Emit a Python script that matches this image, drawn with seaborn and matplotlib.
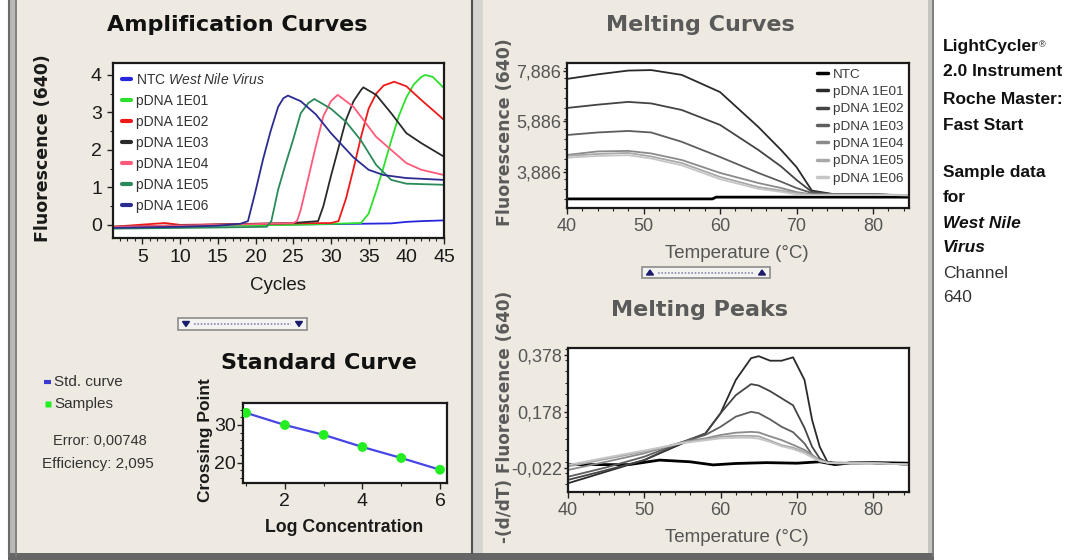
import numpy as np
import pandas as pd
import matplotlib.pyplot as plt
import seaborn as sns
from matplotlib.patches import Rectangle, Polygon
from matplotlib.lines import Line2D
from matplotlib.ticker import MultipleLocator, FixedLocator

W, H = 1082, 560
ARIAL = ['Liberation Sans', 'DejaVu Sans']
HEAVY = ['DejaVu Sans']

# ---- Amplification curves (cycle / fluorescence 640) ----
amp_names = ["NTC", "pDNA 1E01", "pDNA 1E02", "pDNA 1E03", "pDNA 1E04", "pDNA 1E05", "pDNA 1E06"]
amp_labels = ["NTC $\\it{West\\ Nile\\ Virus}$", "pDNA 1E01", "pDNA 1E02", "pDNA 1E03",
              "pDNA 1E04", "pDNA 1E05", "pDNA 1E06"]
amp_colors = ["#2626DC", "#2EE02E", "#EE1A1A", "#2A2A2A", "#FF5A7A", "#2A8A5A", "#2C2C90"]

amp_ntc_x = [1, 10, 20, 30, 38, 40, 42, 45]
amp_ntc_y = [-0.06, -0.04, 0.0, 0.02, 0.04, 0.08, 0.1, 0.12]
amp_e01_x = [1, 25, 34, 35, 36, 37, 38, 39, 40, 41, 42, 42.5, 43.5, 44.5, 45]
amp_e01_y = [-0.05, 0.0, 0.05, 0.3, 0.9, 1.55, 2.25, 2.9, 3.4, 3.75, 3.95, 4.0, 3.95, 3.75, 3.65]
amp_e02_x = [1, 8, 10, 20, 30, 31, 32, 33, 34, 35, 36, 37, 38.4, 40, 42, 44, 45]
amp_e02_y = [-0.05, 0.05, 0.0, 0.03, 0.05, 0.1, 0.7, 1.5, 2.35, 3.1, 3.5, 3.72, 3.82, 3.7, 3.33, 2.98, 2.8]
amp_e03_x = [1, 25, 28.3, 29, 30, 31, 32, 33, 34, 34.3, 36, 38, 40, 42, 45]
amp_e03_y = [-0.05, 0.05, 0.1, 0.5, 1.3, 2.05, 2.8, 3.3, 3.6, 3.67, 3.47, 2.98, 2.45, 2.18, 1.82]
amp_e04_x = [1, 20, 25, 25.5, 26, 27, 28, 29, 30, 30.9, 33, 36, 38, 40, 42, 45]
amp_e04_y = [-0.05, 0.02, 0.05, 0.1, 0.4, 1.25, 2.1, 2.9, 3.3, 3.47, 3.15, 2.35, 2.0, 1.65, 1.47, 1.33]
amp_e05_x = [1, 15, 21.5, 22.1, 23, 24, 25, 26, 27, 27.8, 30, 32, 34, 36, 38, 40, 45]
amp_e05_y = [-0.1, -0.07, -0.05, 0.1, 0.94, 1.63, 2.28, 2.98, 3.25, 3.36, 3.1, 2.75, 2.25, 1.6, 1.2, 1.1, 1.07]
amp_e06_x = [1, 10, 15, 18, 19, 20, 21, 22, 23, 23.7, 24.3, 26, 28, 30, 33, 35, 37, 40, 45]
amp_e06_y = [-0.08, -0.05, -0.02, 0.03, 0.1, 0.9, 1.75, 2.5, 3.15, 3.38, 3.45, 3.3, 2.95, 2.45, 1.8, 1.47, 1.33, 1.25, 1.2]

# ---- Standard curve ----
log_conc = [1, 2, 3, 4, 5, 6]
crossing_point = [33.2, 30.0, 27.4, 24.2, 21.3, 18.2]

# ---- Melting curves (temperature / fluorescence 640) ----
melt_names = ["NTC", "pDNA 1E01", "pDNA 1E02", "pDNA 1E03", "pDNA 1E04", "pDNA 1E05", "pDNA 1E06"]
melt_colors = ["#000000", "#2A2A2A", "#444444", "#5E5E5E", "#8A8A8A", "#A8A8A8", "#C6C6C6"]
melt_temp = [40, 44, 48, 51, 55, 60, 65, 68, 70, 72, 75, 80, 85]
melt_e01 = [7.57, 7.75, 7.90, 7.92, 7.73, 7.05, 5.67, 4.75, 4.08, 3.15, 3.0, 3.0, 2.95]
melt_e02 = [6.42, 6.55, 6.66, 6.60, 6.34, 5.75, 4.76, 4.10, 3.57, 3.10, 3.0, 3.0, 2.95]
melt_e03 = [5.35, 5.45, 5.51, 5.45, 5.08, 4.48, 3.85, 3.50, 3.25, 3.05, 3.0, 3.0, 2.95]
melt_e04 = [4.56, 4.70, 4.72, 4.62, 4.36, 3.85, 3.45, 3.25, 3.09, 3.0, 3.0, 3.0, 2.97]
melt_e05 = [4.52, 4.60, 4.64, 4.50, 4.24, 3.69, 3.29, 3.15, 3.05, 2.98, 2.98, 2.98, 2.97]
melt_e06 = [4.45, 4.52, 4.55, 4.42, 4.15, 3.60, 3.22, 3.10, 3.00, 2.97, 2.97, 2.97, 2.97]
melt_ntc_temp = [40, 59, 59.5, 85]
melt_ntc = [2.82, 2.82, 2.89, 2.89]
melt_ticks = [3.886, 5.886, 7.886]
melt_ticklabels = ["3,886", "5,886", "7,886"]

# ---- Melting peaks (temperature / -(d/dT) fluorescence) ----
peak_temp = [40, 45, 50, 55, 58, 60, 62, 64, 65, 66.5, 68, 69.5, 71, 72, 73, 74, 75, 80, 85]
peak_e01 = [-0.076, -0.035, 0.006, 0.065, 0.10, 0.172, 0.29, 0.367, 0.374, 0.358, 0.358, 0.37, 0.29, 0.148, 0.053, 0.0, -0.003, -0.005, -0.01]
peak_e02 = [-0.064, -0.03, 0.006, 0.07, 0.10, 0.172, 0.236, 0.275, 0.27, 0.25, 0.225, 0.2, 0.12, 0.053, 0.012, -0.003, -0.005, -0.005, -0.01]
peak_e03 = [-0.053, -0.02, 0.018, 0.07, 0.095, 0.124, 0.16, 0.177, 0.172, 0.15, 0.124, 0.105, 0.065, 0.024, 0.0, -0.003, -0.005, -0.005, -0.01]
peak_e04 = [-0.029, 0.0, 0.03, 0.07, 0.083, 0.095, 0.103, 0.106, 0.104, 0.09, 0.077, 0.06, 0.042, 0.024, 0.006, -0.003, -0.005, -0.005, -0.01]
peak_e05 = [-0.017, 0.01, 0.036, 0.068, 0.08, 0.089, 0.092, 0.092, 0.09, 0.075, 0.059, 0.05, 0.035, 0.02, 0.005, -0.003, -0.005, -0.005, -0.01]
peak_e06 = [-0.011, 0.015, 0.04, 0.066, 0.076, 0.083, 0.085, 0.085, 0.082, 0.07, 0.055, 0.045, 0.03, 0.015, 0.003, -0.003, -0.005, -0.005, -0.01]
peak_ntc_temp = [40, 48, 52, 56, 59, 62, 66, 70, 73, 75, 77, 80, 85]
peak_ntc = [-0.01, -0.01, 0.006, 0.0, -0.011, -0.006, -0.003, -0.005, 0.0, -0.01, -0.004, -0.003, -0.005]
peak_ticks = [-0.022, 0.178, 0.378]
peak_ticklabels = ["-0,022", "0,178", "0,378"]

side_lines = ["LightCycler", "2.0 Instrument", "Roche Master:", "Fast Start",
              "Sample data", "for", "West Nile", "Virus", "Channel", "640"]


def long_df(xs, ys, names, xname, yname):
    parts = [pd.DataFrame({xname: x, yname: y, "sample": n}) for x, y, n in zip(xs, ys, names)]
    return pd.concat(parts, ignore_index=True)


amp_df = long_df([amp_ntc_x, amp_e01_x, amp_e02_x, amp_e03_x, amp_e04_x, amp_e05_x, amp_e06_x],
                 [amp_ntc_y, amp_e01_y, amp_e02_y, amp_e03_y, amp_e04_y, amp_e05_y, amp_e06_y],
                 amp_names, "cycle", "fluor")
melt_df = long_df([melt_ntc_temp] + [melt_temp] * 6,
                  [melt_ntc, melt_e01, melt_e02, melt_e03, melt_e04, melt_e05, melt_e06],
                  melt_names, "temp", "fluor")
peak_df = long_df([peak_ntc_temp] + [peak_temp] * 6,
                  [peak_ntc, peak_e01, peak_e02, peak_e03, peak_e04, peak_e05, peak_e06],
                  melt_names, "temp", "dfdt")
std_df = pd.DataFrame({"logc": log_conc, "cp": crossing_point})

sns.set_theme(style="white")
plt.rcParams['font.family'] = ARIAL
plt.rcParams['mathtext.fontset'] = 'custom'
plt.rcParams['mathtext.rm'] = 'Liberation Sans'
plt.rcParams['mathtext.it'] = 'Liberation Sans:italic'

fig = plt.figure(figsize=(W / 100, H / 100), dpi=100, facecolor="white")


def px_axes(left, top, right, bottom):
    return fig.add_axes([left / W, 1 - bottom / H, (right - left) / W, (bottom - top) / H])


# background / window frame
bg = fig.add_axes([0, 0, 1, 1])
bg.set_xlim(0, W)
bg.set_ylim(H, 0)
bg.axis("off")
bg.add_patch(Rectangle((17, 0), 912, 553, color="#EEEAE1", lw=0))
bg.add_patch(Rectangle((8, 0), 9, 556, color="#B8B8B4", lw=0))
bg.plot([9, 9], [0, 556], color="#6A6A6A", lw=1.5)
bg.plot([16, 16], [0, 556], color="#7A7A7A", lw=1.2)
bg.add_patch(Rectangle((473, 0), 10, 553, color="#D6D4CE", lw=0))
bg.plot([472, 472], [0, 553], color="#505050", lw=1.5)
bg.add_patch(Rectangle((928, 0), 6, 556, color="#C4C4C0", lw=0))
bg.plot([933, 933], [0, 556], color="#7A7A7A", lw=1.3)
bg.add_patch(Rectangle((8, 553), 926, 7, color="#666666", lw=0))


def handle(x0, x1, y0, y1, up):
    bg.add_patch(Rectangle((x0, y0), x1 - x0, y1 - y0, facecolor="#F3F3F1", edgecolor="#8C8C8C", lw=1.2))
    ym = (y0 + y1) / 2
    bg.plot([x0 + 16, x1 - 16], [ym, ym], color="#8C8CB4", lw=1.2, ls=(0, (1, 1)))
    for xc in (x0 + 8, x1 - 8):
        if up:
            tri = [(xc - 3.5, ym + 2.5), (xc + 3.5, ym + 2.5), (xc, ym - 2.5)]
        else:
            tri = [(xc - 3.5, ym - 2.5), (xc + 3.5, ym - 2.5), (xc, ym + 2.5)]
        bg.add_patch(Polygon(tri, closed=True, color="#1C1C6C"))


handle(178, 307, 318, 330, up=False)
handle(642, 770, 267, 278, up=True)


def style(ax, color, lw=1.6):
    ax.set_facecolor("white")
    for s in ax.spines.values():
        s.set_visible(True)
        s.set_color("#1A1A1A")
        s.set_linewidth(lw)
    ax.tick_params(axis="both", which="both", bottom=True, left=True, direction="out",
                   colors="#222222", labelcolor=color)
    ax.tick_params(which="major", length=4, width=1)
    ax.tick_params(which="minor", length=2, width=0.8)
    ax.grid(False)


# ---- Amplification Curves ----
ax1 = px_axes(113, 63, 444, 238)
sns.lineplot(data=amp_df, x="cycle", y="fluor", hue="sample", hue_order=amp_names,
             palette=amp_colors, sort=False, estimator=None, lw=1.3, legend=False, ax=ax1)
ax1.set_xlim(1.1, 45)
ax1.set_ylim(-0.35, 4.32)
ax1.set_xticks([5, 10, 15, 20, 25, 30, 35, 40, 45])
ax1.set_yticks([0, 1, 2, 3, 4])
ax1.xaxis.set_minor_locator(MultipleLocator(1))
ax1.yaxis.set_minor_locator(MultipleLocator(0.5))
style(ax1, "#1A1A1A")
ax1.tick_params(labelsize=14, pad=4)
ax1.set_title("Amplification Curves", family=HEAVY, fontweight="bold", fontsize=16,
              color="#111111", x=0.375, y=1.171, va="center")
ax1.set_xlabel("Cycles", fontsize=13.5, color="#1A1A1A", va="center")
ax1.xaxis.set_label_coords(0.498, -0.269)
ax1.set_ylabel("Fluorescence (640)", family=HEAVY, fontweight="bold", fontsize=12.5,
               color="#1A1A1A", va="center")
ax1.yaxis.set_label_coords(-0.211, 0.514)
amp_handles = [Line2D([], [], color=c, lw=3) for c in amp_colors]
ax1.legend(amp_handles, amp_labels, loc="upper left", bbox_to_anchor=(0.01, 0.98),
           frameon=False, fontsize=10, handlelength=0.65, handletextpad=0.4,
           labelspacing=0.5, borderaxespad=0, labelcolor="#333333")

# ---- Standard Curve ----
ax2 = px_axes(243, 403, 447, 483)
sns.lineplot(data=std_df, x="logc", y="cp", color="#4646E6", lw=1.6, ax=ax2)
sns.scatterplot(data=std_df, x="logc", y="cp", color="#22EE22", s=50, edgecolor="none",
                zorder=3, ax=ax2)
ax2.set_xlim(0.92, 6.18)
ax2.set_ylim(14.7, 35.8)
ax2.set_xticks([2, 4, 6])
ax2.set_yticks([20, 30])
ax2.xaxis.set_minor_locator(MultipleLocator(1))
ax2.yaxis.set_minor_locator(MultipleLocator(2))
style(ax2, "#1A1A1A")
ax2.tick_params(labelsize=14, pad=3)
ax2.tick_params(axis="y", pad=1)
ax2.set_title("Standard Curve", family=HEAVY, fontweight="bold", fontsize=16,
              color="#111111", x=0.373, y=1.39, va="center")
ax2.set_xlabel("Log Concentration", fontsize=12.8, fontweight="bold", color="#1A1A1A", va="center")
ax2.xaxis.set_label_coords(0.495, -0.55)
ax2.set_ylabel("Crossing Point", fontsize=12.5, fontweight="bold", color="#1A1A1A", va="center")
ax2.yaxis.set_label_coords(-0.186, 0.54)

# standard curve key + statistics
bg.plot([44, 51], [382, 382], color="#3A3AD0", lw=3, solid_capstyle="butt")
bg.plot([48], [404], marker="s", ms=4.5, color="#22EE22", mec="none")
bg.text(54, 382, "Std. curve", fontsize=11, color="#333333", va="center", ha="left")
bg.text(54, 404, "Samples", fontsize=11, color="#333333", va="center", ha="left")
bg.text(100, 441, "Error: 0,00748", fontsize=10.5, color="#333333", va="center", ha="center")
bg.text(98, 464, "Efficiency: 2,095", fontsize=11, color="#333333", va="center", ha="center")

# ---- Melting Curves ----
gray_txt = "#555555"
ax3 = px_axes(567, 63, 909, 208)
sns.lineplot(data=melt_df, x="temp", y="fluor", hue="sample", hue_order=melt_names,
             palette=melt_colors, sort=False, estimator=None, lw=1.3, legend=False, ax=ax3)
for ln in ax3.lines[:1]:
    ln.set_linewidth(2)
ax3.set_xlim(40, 84.7)
ax3.set_ylim(2.46, 8.20)
ax3.set_xticks([40, 50, 60, 70, 80])
ax3.yaxis.set_major_locator(FixedLocator(melt_ticks))
ax3.set_yticklabels(melt_ticklabels)
ax3.yaxis.set_minor_locator(MultipleLocator(0.4))
ax3.xaxis.set_minor_locator(MultipleLocator(2))
style(ax3, gray_txt)
ax3.tick_params(labelsize=13, pad=3)
ax3.tick_params(axis="y", length=3, pad=1)
ax3.set_title("Melting Curves", family=HEAVY, fontweight="bold", fontsize=16,
              color="#5A5A5A", x=0.389, y=1.207, va="center")
ax3.set_xlabel("Temperature (°C)", fontsize=13.5, color=gray_txt, va="center")
ax3.xaxis.set_label_coords(0.497, -0.317)
ax3.set_ylabel("Fluorescence (640)", family=HEAVY, fontweight="bold", fontsize=12.5,
               color="#5A5A5A", va="center")
ax3.yaxis.set_label_coords(-0.181, 0.524)
melt_handles = [Line2D([], [], color=c, lw=2.5) for c in melt_colors]
ax3.legend(melt_handles, melt_names, loc="upper left", bbox_to_anchor=(0.715, 1.0),
           frameon=False, fontsize=9.7, handlelength=0.8, handletextpad=0.4,
           labelspacing=0.36, borderaxespad=0, labelcolor="#3A3A3A")

# ---- Melting Peaks ----
ax4 = px_axes(568, 348, 909, 492)
sns.lineplot(data=peak_df, x="temp", y="dfdt", hue="sample", hue_order=melt_names,
             palette=melt_colors, sort=False, estimator=None, lw=1.3, legend=False, ax=ax4)
for ln in ax4.lines[:1]:
    ln.set_linewidth(2)
ax4.set_xlim(40, 84.7)
ax4.set_ylim(-0.107, 0.403)
ax4.set_xticks([40, 50, 60, 70, 80])
ax4.yaxis.set_major_locator(FixedLocator(peak_ticks))
ax4.set_yticklabels(peak_ticklabels)
ax4.yaxis.set_minor_locator(MultipleLocator(0.04))
ax4.xaxis.set_minor_locator(MultipleLocator(2))
style(ax4, gray_txt)
ax4.tick_params(labelsize=13, pad=3)
ax4.tick_params(axis="y", length=3, pad=1)
ax4.set_title("Melting Peaks", family=HEAVY, fontweight="bold", fontsize=16,
              color="#5A5A5A", x=0.387, y=1.208, va="center")
ax4.set_xlabel("Temperature (°C)", fontsize=13.5, color=gray_txt, va="center")
ax4.xaxis.set_label_coords(0.496, -0.3125)
ax4.set_ylabel("-(d/dT) Fluorescence (640)", family=HEAVY, fontweight="bold", fontsize=12.2,
               color="#5A5A5A", va="center")
ax4.yaxis.set_label_coords(-0.185, 0.52)

# ---- side notes ----
side_y = [47, 72, 100, 125, 173, 198, 223, 248, 273, 298]
for txt, yy in zip(side_lines, side_y):
    italic = txt in ("West Nile", "Virus")
    plain = txt in ("Channel", "640")
    t = bg.text(943, yy, txt, family=ARIAL, fontsize=12.5,
                fontweight="normal" if plain else "bold",
                fontstyle="italic" if italic else "normal",
                color="#333333" if plain else "#111111", va="center", ha="left")
    if txt == "LightCycler":
        bg.annotate("®", xy=(1.0, 0.95), xycoords=t, fontsize=6.5, family=ARIAL,
                    color="#111111", va="top", ha="left")

fig.savefig("out.png", dpi=100, facecolor="white")
